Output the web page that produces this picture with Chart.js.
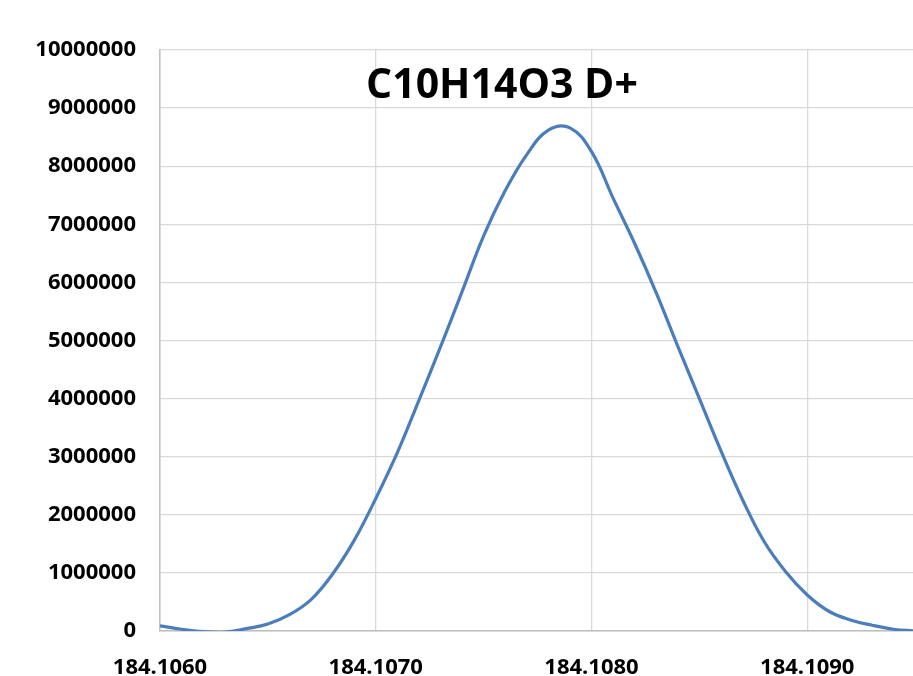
<!DOCTYPE html>
<html>
<head>
<meta charset="utf-8">
<script src="https://cdn.jsdelivr.net/npm/chart.js@4"></script>
<style>
  html, body { margin: 0; padding: 0; background: #fff; }
  #wrap { width: 913px; height: 676px; }
</style>
</head>
<body>
<div id="wrap"><canvas id="chart" width="913" height="676"></canvas></div>
<script>
// data
const chartTitle = "C10H14O3 D+"
const massValues = [
  184.1060, 184.1061, 184.1062, 184.1063, 184.1064, 184.1065, 184.1066, 184.1067,
  184.1068, 184.1069, 184.1070, 184.1071, 184.1072, 184.1073, 184.1074, 184.1075,
  184.1076, 184.1077, 184.1078, 184.1079, 184.1080, 184.1081, 184.1082, 184.1083,
  184.1084, 184.1085, 184.1086, 184.1087, 184.1088, 184.1089, 184.1090, 184.1091,
  184.1092, 184.1093, 184.1094, 184.1095
]
const intensity = [
  90000, 30000, -10000, -20000, 40000, 120000, 280000, 540000,
  980000, 1560000, 2280000, 3070000, 3970000, 4890000, 5840000, 6800000,
  7580000, 8200000, 8620000, 8660000, 8250000, 7450000, 6670000, 5820000,
  4900000, 4000000, 3100000, 2260000, 1540000, 1020000, 620000, 340000,
  190000, 100000, 30000, 0
]
const xMin = 184.1060
const xMax = 184.10949
const xStep = 0.001
const yMax = 10000000
const yStep = 1000000

let points = massValues.map(function(m, i) {
    return { x: m, y: intensity[i] }
})

// title drawn over the plot area, like the original
const titlePlugin = {
    id: "overTitle",
    afterDraw: function(chart) {
        let ctx = chart.ctx
        ctx.save()
        ctx.font = "bold 41px 'Open Sans'"
        ctx.fillStyle = "#000"
        ctx.textAlign = "center"
        ctx.textBaseline = "alphabetic"
        ctx.fillText(chartTitle, 502, 98)
        ctx.restore()
    }
}

let ctx = document.getElementById("chart").getContext("2d")
let chart = new Chart(ctx, {
    type: "line",
    data: {
        datasets: [{
            data: points,
            borderColor: "#4a7ebb",
            borderWidth: 3.2,
            pointRadius: 0,
            tension: 0.4,
            fill: false
        }]
    },
    options: {
        responsive: false,
        animation: false,
        layout: { padding: { top: 50, right: 0, left: 0, bottom: 0 } },
        plugins: {
            legend: { display: false },
            tooltip: { enabled: false }
        },
        scales: {
            x: {
                type: "linear",
                min: xMin,
                max: xMax,
                grid: { color: "#d9d9d9", lineWidth: 1.3, drawTicks: false },
                border: { color: "#bfbfbf", width: 1.5 },
                ticks: {
                    stepSize: xStep,
                    includeBounds: false,
                    maxRotation: 0,
                    padding: 24,
                    color: "#000",
                    font: { family: "'Open Sans'", size: 22, weight: "bold" },
                    callback: function(v) { return Number(v).toFixed(4) }
                },
                afterFit: function(scale) { scale.height = 45 }
            },
            y: {
                min: 0,
                max: yMax,
                grid: { color: "#d9d9d9", lineWidth: 1.3, drawTicks: false },
                border: { color: "#bfbfbf", width: 1.5 },
                ticks: {
                    stepSize: yStep,
                    padding: 24,
                    color: "#000",
                    font: { family: "'Open Sans'", size: 22, weight: "bold" },
                    callback: function(v) { return String(v) }
                },
                afterFit: function(scale) { scale.width = 160 }
            }
        }
    },
    plugins: [titlePlugin]
})
</script>
</body>
</html>
